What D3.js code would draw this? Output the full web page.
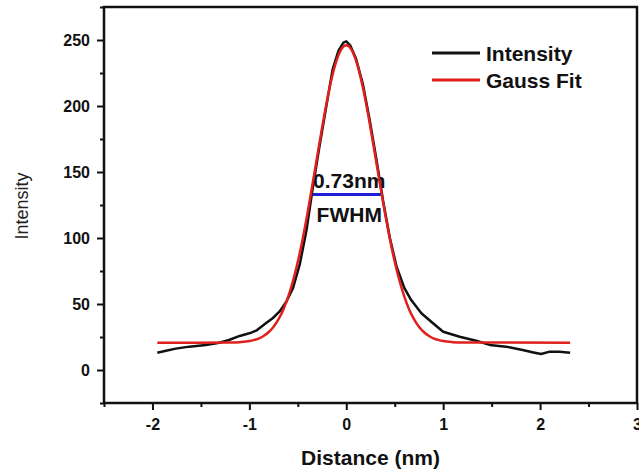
<!DOCTYPE html>
<html>
<head>
<meta charset="utf-8">
<script src="https://cdn.jsdelivr.net/npm/d3@7"></script>
<style>
  html, body { margin: 0; padding: 0; background: #fff; }
  svg { display: block; font-family: "Liberation Sans", Arial, Helvetica, sans-serif; }
  .axis text { font-size: 16px; font-weight: bold; fill: #111; }
  .axis line { stroke: #111; stroke-width: 2; }
  .axis path { display: none; }
</style>
</head>
<body>
<svg id="chart" width="639" height="473"></svg>
<script>
// ---- data ----
const xTicks = [-2, -1, 0, 1, 2, 3];
const xMinor = [-2.5, -1.5, -0.5, 0.5, 1.5, 2.5];
const yTicks = [0, 50, 100, 150, 200, 250];
const yMinor = [-25, 25, 75, 125, 175, 225, 275];

// measured line profile (black)
const distance = [-1.95, -1.86, -1.76, -1.62, -1.45, -1.31, -1.21, -1.10, -1.00, -0.93,
  -0.83, -0.76, -0.69, -0.62, -0.55, -0.48, -0.41, -0.35, -0.28, -0.21, -0.14, -0.08,
  -0.03, 0.00, 0.04, 0.10, 0.17, 0.24, 0.31, 0.38, 0.45, 0.52, 0.60, 0.67, 0.775,
  0.895, 1.00, 1.17, 1.34, 1.48, 1.65, 1.82, 1.92, 2.01, 2.10, 2.20, 2.31];
const intensity = [13.1, 14.6, 16.2, 17.7, 19.0, 20.7, 22.7, 25.8, 27.8, 29.8,
  35.4, 39.2, 44.2, 51.5, 62, 80, 106, 136, 168, 198, 228, 242,
  248, 249, 246, 236, 217, 190, 160, 128, 100, 78, 62, 53, 43,
  35.4, 29, 25.2, 22.2, 19, 17.7, 15.2, 13.5, 12.1, 13.9, 13.9, 13.1];

// gauss fit (red)
const fitX = [-1.95, -1.2, -1.1, -1.0, -0.95, -0.9, -0.85, -0.8, -0.75, -0.7, -0.65, -0.6,
  -0.55, -0.5, -0.45, -0.4, -0.35, -0.3, -0.25, -0.2, -0.15, -0.1, -0.05, 0,
  0.05, 0.1, 0.15, 0.2, 0.25, 0.3, 0.35, 0.4, 0.45, 0.5, 0.55, 0.6, 0.65, 0.7,
  0.75, 0.8, 0.85, 0.9, 0.95, 1.0, 1.1, 1.2, 2.31];
const fitY = [20.7, 20.8, 21.1, 21.9, 22.8, 24.0, 26.0, 28.8, 32.8, 38.3, 45.7, 55.4,
  67.4, 82.0, 99.3, 118.8, 139.9, 161.8, 183.4, 203.7, 221.1, 234.6, 243.1, 246.0,
  243.1, 234.6, 221.1, 203.7, 183.4, 161.8, 139.9, 118.8, 99.3, 82.0, 67.4, 55.4, 45.7, 38.3,
  32.8, 28.8, 26.0, 24.0, 22.8, 21.9, 21.1, 20.8, 20.7];

// FWHM marker
const fwhmX = [-0.365, 0.365];
const fwhmY = 133;

const series = [
  { label: 'Intensity', color: '#111111' },
  { label: 'Gauss Fit', color: '#e0201c' }
];

// ---- layout ----
const margin = { top: 7, right: 2, bottom: 70, left: 104 };
const svg = d3.select('#chart');
const w = +svg.attr('width'), h = +svg.attr('height');
const W = w - margin.left - margin.right;
const H = h - margin.top - margin.bottom;
const g = svg.append('g').attr('transform', `translate(${margin.left},${margin.top})`);

const x = d3.scaleLinear().domain([-2.5, 3]).range([0, W]);
const y = d3.scaleLinear().domain([-25, 275]).range([H, 0]);

// plain hyphen for negatives, like the original
const plain = d => String(d);

// axes
g.append('g').attr('class', 'axis')
  .attr('transform', `translate(0,${H})`)
  .call(d3.axisBottom(x).tickValues(xTicks).tickSize(7).tickPadding(9).tickFormat(plain));
g.append('g').attr('class', 'axis')
  .attr('transform', `translate(0,${H})`)
  .call(d3.axisBottom(x).tickValues(xMinor).tickSize(4).tickFormat(''));
g.append('g').attr('class', 'axis')
  .call(d3.axisLeft(y).tickValues(yTicks).tickSize(7).tickPadding(7).tickFormat(plain));
g.append('g').attr('class', 'axis')
  .call(d3.axisLeft(y).tickValues(yMinor).tickSize(4).tickFormat(''));

// frame
g.append('rect')
  .attr('x', 0).attr('y', 0).attr('width', W).attr('height', H)
  .attr('fill', 'none').attr('stroke', '#111').attr('stroke-width', 2.5);

// FWHM annotation (under the curves)
g.append('text')
  .attr('x', x(0) + 3).attr('y', 181)
  .attr('text-anchor', 'middle')
  .style('font-size', '21px').style('font-weight', 'bold').attr('fill', '#111')
  .text('0.73nm');
g.append('text')
  .attr('x', x(0) + 3).attr('y', 215)
  .attr('text-anchor', 'middle')
  .style('font-size', '21px').style('font-weight', 'bold').attr('fill', '#111')
  .text('FWHM');
g.append('line')
  .attr('x1', x(fwhmX[0])).attr('x2', x(fwhmX[1]))
  .attr('y1', y(fwhmY)).attr('y2', y(fwhmY))
  .attr('stroke', '#1f1fd8').attr('stroke-width', 3);

// curves
const lineData = d3.line().x(d => x(d[0])).y(d => y(d[1]));
g.append('path')
  .datum(distance.map((d, i) => [d, intensity[i]]))
  .attr('fill', 'none').attr('stroke', series[0].color)
  .attr('stroke-width', 2.5).attr('stroke-linejoin', 'round')
  .attr('d', lineData);

const lineFit = d3.line().x(d => x(d[0])).y(d => y(d[1])).curve(d3.curveMonotoneX);
g.append('path')
  .datum(fitX.map((d, i) => [d, fitY[i]]))
  .attr('fill', 'none').attr('stroke', series[1].color)
  .attr('stroke-width', 2.5).attr('stroke-linejoin', 'round')
  .attr('d', lineFit);

// legend
const legend = g.append('g').attr('transform', 'translate(328,46)');
series.forEach((s, i) => {
  const row = legend.append('g').attr('transform', `translate(0,${i * 27})`);
  row.append('line')
    .attr('x1', 0).attr('x2', 48).attr('y1', 0).attr('y2', 0)
    .attr('stroke', s.color).attr('stroke-width', 3);
  row.append('text')
    .attr('x', 54).attr('y', 7.5)
    .style('font-size', '21px').style('font-weight', 'bold').attr('fill', '#111')
    .text(s.label);
});

// axis titles
svg.append('text')
  .attr('x', margin.left + x(0.25)).attr('y', 465)
  .attr('text-anchor', 'middle')
  .style('font-size', '21px').style('font-weight', 'bold').attr('fill', '#111')
  .text('Distance (nm)');
svg.append('text')
  .attr('transform', 'translate(28,206) rotate(-90)')
  .attr('text-anchor', 'middle')
  .style('font-size', '18px').attr('fill', '#222')
  .text('Intensity');
</script>
</body>
</html>
